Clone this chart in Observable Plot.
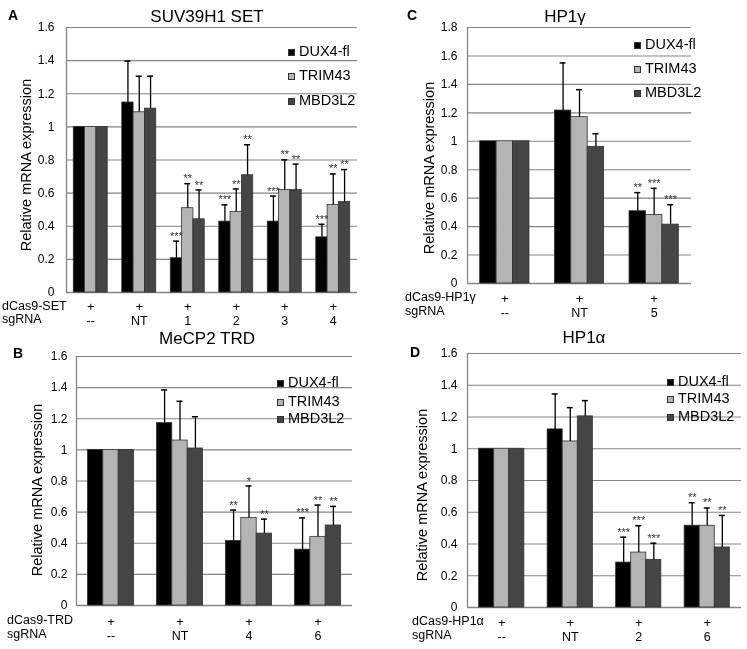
<!DOCTYPE html>
<html>
<head>
<meta charset="utf-8">
<script src="https://cdn.jsdelivr.net/npm/d3@7"></script>
<script src="https://cdn.jsdelivr.net/npm/@observablehq/plot@0.6"></script>
<style>
  body { margin: 0; background: #fff; }
  #root { position: relative; width: 747px; height: 649px; overflow: hidden; background: #fff;
          font-family: Arial, "Liberation Sans", sans-serif; color: #000; filter: grayscale(100%); }
  .abs { position: absolute; white-space: nowrap; line-height: 0.9; }
  .sq { position: absolute; width: 5px; height: 5px; border: 1px solid #333; box-sizing: content-box; }
  svg { overflow: visible; }
</style>
</head>
<body>
<div id="root"></div>
<script>
// ---------- data ----------
const SERIES = ["DUX4-fl", "TRIM43", "MBD3L2"];
const FILLS = ["#000000", "#b4b4b4", "#454545"];

// Panel A: SUV39H1 SET
const aTitle = "SUV39H1 SET";
const aRowTitle = "dCas9-SET";
const aGroups = ["--", "NT", "1", "2", "3", "4"];
const aDUX4 = [1, 1.147, 0.207, 0.428, 0.428, 0.333];
const aDUX4Err = [0, 0.25, 0.103, 0.101, 0.154, 0.079];
const aDUX4Sig = ["", "", "***", "***", "***", "***"];
const aTRIM43 = [1, 1.088, 0.509, 0.487, 0.619, 0.529];
const aTRIM43Err = [0, 0.218, 0.148, 0.138, 0.182, 0.187];
const aTRIM43Sig = ["", "", "**", "**", "**", "**"];
const aMBD3L2 = [1, 1.11, 0.442, 0.708, 0.619, 0.546];
const aMBD3L2Err = [0, 0.196, 0.177, 0.184, 0.156, 0.196];
const aMBD3L2Sig = ["", "", "**", "**", "**", "**"];

// Panel B: MeCP2 TRD
const bTitle = "MeCP2 TRD";
const bRowTitle = "dCas9-TRD";
const bGroups = ["--", "NT", "4", "6"];
const bDUX4 = [1, 1.172, 0.415, 0.359];
const bDUX4Err = [0, 0.213, 0.198, 0.204];
const bDUX4Sig = ["", "", "**", "***"];
const bTRIM43 = [1, 1.06, 0.563, 0.441];
const bTRIM43Err = [0, 0.252, 0.205, 0.204];
const bTRIM43Sig = ["", "", "*", "**"];
const bMBD3L2 = [1, 1.009, 0.462, 0.514];
const bMBD3L2Err = [0, 0.204, 0.093, 0.123];
const bMBD3L2Sig = ["", "", "**", "**"];

// Panel C: HP1γ
const cTitle = "HP1γ";
const cRowTitle = "dCas9-HP1γ";
const cGroups = ["--", "NT", "5"];
const cDUX4 = [1, 1.216, 0.508];
const cDUX4Err = [0, 0.335, 0.131];
const cDUX4Sig = ["", "", "**"];
const cTRIM43 = [1, 1.17, 0.482];
const cTRIM43Err = [0, 0.193, 0.187];
const cTRIM43Sig = ["", "", "***"];
const cMBD3L2 = [1, 0.961, 0.414];
const cMBD3L2Err = [0, 0.092, 0.14];
const cMBD3L2Sig = ["", "", "***"];

// Panel D: HP1α
const dTitle = "HP1α";
const dRowTitle = "dCas9-HP1α";
const dGroups = ["--", "NT", "2", "6"];
const dDUX4 = [1, 1.122, 0.283, 0.515];
const dDUX4Err = [0, 0.223, 0.16, 0.145];
const dDUX4Sig = ["", "", "***", "**"];
const dTRIM43 = [1, 1.046, 0.346, 0.515];
const dTRIM43Err = [0, 0.213, 0.169, 0.112];
const dTRIM43Sig = ["", "", "***", "**"];
const dMBD3L2 = [1, 1.204, 0.3, 0.378];
const dMBD3L2Err = [0, 0.099, 0.105, 0.202];
const dMBD3L2Sig = ["", "", "***", "**"];

const yLabel = "Relative mRNA expression";

// ---------- helpers ----------
const root = document.getElementById("root");
const FONT = 'Arial, "Liberation Sans", sans-serif';

function text(x, y, str, opts = {}) {
  const el = document.createElement("div");
  el.className = "abs";
  el.textContent = str;
  el.style.left = x + "px";
  el.style.top = y + "px";
  el.style.fontSize = (opts.size || 12) + "px";
  if (opts.weight) el.style.fontWeight = opts.weight;
  const tx = opts.anchor === "start" ? "0" : "-50%";
  el.style.transform = `translate(${tx}, -50%)` + (opts.rotate ? ` rotate(${opts.rotate}deg)` : "");
  root.appendChild(el);
  return el;
}

function legend(x, ys, size) {
  SERIES.forEach((s, j) => {
    const sq = document.createElement("div");
    sq.className = "sq";
    sq.style.left = x + "px";
    sq.style.top = (ys[j] - 3) + "px";
    sq.style.background = FILLS[j];
    root.appendChild(sq);
    text(x + 11, ys[j], s, {size, anchor: "start"});
  });
}

function panel(p) {
  const n = p.groups.length;
  const rows = [];
  SERIES.forEach((s, j) => {
    p.values[j].forEach((v, i) => {
      const w = p.span / 3;
      const x1 = i - p.span / 2 + j * w;
      rows.push({i, j, s, v, sd: p.errs[j][i], sig: p.sigs[j][i],
                 x1, x2: x1 + w, cx: x1 + w / 2, top: v + p.errs[j][i]});
    });
  });
  const errRows = rows.filter(d => d.sd > 0);
  const sigRows = rows.filter(d => d.sig);
  const yTicks = d3.range(0, p.yMax + 1e-9, 0.2).map(v => +v.toFixed(1));
  const groupRows = p.groups.map((g, i) => ({i, g}));

  const chart = Plot.plot({
    width: p.w, height: p.h,
    marginLeft: p.ml, marginRight: p.mr, marginTop: p.mt, marginBottom: p.mb,
    style: {fontFamily: FONT, fontSize: "12px", background: "transparent", color: "#000", overflow: "visible"},
    x: {domain: [-0.5, n - 0.5], axis: null},
    y: {domain: [0, p.yMax], ticks: yTicks, tickSize: 0, tickPadding: p.tp,
        tickFormat: d => String(d), label: null},
    marks: [
      Plot.ruleY(yTicks.filter(t => t > 0), {stroke: "#858585", strokeWidth: 1.1}),
      Plot.ruleY([0], {stroke: "#858585", strokeWidth: 1.3}),
      Plot.ruleX([-0.5], {stroke: "#858585", strokeWidth: 1.3}),
      Plot.rect(rows, {x1: "x1", x2: "x2", y1: 0, y2: "v",
                       fill: d => FILLS[d.j], stroke: "#333", strokeWidth: 0.8}),
      Plot.ruleX(errRows, {x: "cx", y1: "v", y2: "top", stroke: "#000", strokeWidth: 1.3}),
      Plot.ruleY(errRows, {y: "top", x1: "cx", x2: "cx", insetLeft: -3, insetRight: -3,
                           stroke: "#000", strokeWidth: 1.5}),
      Plot.text(sigRows, {x: "cx", y: "top", text: "sig", dy: -5, fontSize: 11, fill: "#333"}),
      Plot.text(groupRows, {x: "i", text: () => "+", frameAnchor: "bottom", lineAnchor: "middle",
                            dy: p.dyPlus, fontSize: 13}),
      Plot.text(groupRows, {x: "i", text: "g", frameAnchor: "bottom", lineAnchor: "middle",
                            dy: p.dyLab, fontSize: 12.5})
    ]
  });
  chart.style.position = "absolute";
  chart.style.left = p.left + "px";
  chart.style.top = p.top + "px";
  root.appendChild(chart);

  const frameBottom = p.top + p.h - p.mb;
  text(p.titleX, p.titleY, p.title, {size: 17});
  text(p.letterX, p.letterY, p.letter, {size: 14, weight: "bold"});
  text(p.ylX, p.ylY, yLabel, {size: 14.5, rotate: -90});
  text(p.rowX, frameBottom + p.dyPlus, p.rowTitle, {size: 12.5, anchor: "start"});
  text(p.rowX, frameBottom + p.dyLab, "sgRNA", {size: 12.5, anchor: "start"});
  legend(p.legX, p.legY, 14.5);
}

// ---------- panels ----------
panel({
  title: aTitle, letter: "A", rowTitle: aRowTitle, groups: aGroups,
  values: [aDUX4, aTRIM43, aMBD3L2], errs: [aDUX4Err, aTRIM43Err, aMBD3L2Err],
  sigs: [aDUX4Sig, aTRIM43Sig, aMBD3L2Sig], yMax: 1.6, span: 0.70,
  left: 0, top: 0, w: 370, h: 330, ml: 66, mr: 13, mt: 27, mb: 38, tp: 12,
  dyPlus: 14.5, dyLab: 28,
  titleX: 207, titleY: 17, letterX: 13, letterY: 15, ylX: 27, ylY: 165,
  rowX: 2, legX: 288, legY: [52, 76, 101]
});
panel({
  title: bTitle, letter: "B", rowTitle: bRowTitle, groups: bGroups,
  values: [bDUX4, bTRIM43, bMBD3L2], errs: [bDUX4Err, bTRIM43Err, bMBD3L2Err],
  sigs: [bDUX4Sig, bTRIM43Sig, bMBD3L2Sig], yMax: 1.6, span: 0.67,
  left: 0, top: 325, w: 370, h: 324, ml: 76, mr: 18, mt: 31, mb: 44, tp: 9,
  dyPlus: 16, dyLab: 30,
  titleX: 207, titleY: 339, letterX: 18, letterY: 353, ylX: 38, ylY: 490,
  rowX: 7, legX: 277, legY: [383, 402, 419]
});
panel({
  title: cTitle, letter: "C", rowTitle: cRowTitle, groups: cGroups,
  values: [cDUX4, cTRIM43, cMBD3L2], errs: [cDUX4Err, cTRIM43Err, cMBD3L2Err],
  sigs: [cDUX4Sig, cTRIM43Sig, cMBD3L2Sig], yMax: 1.8, span: 0.66,
  left: 380, top: 0, w: 367, h: 325, ml: 87, mr: 56, mt: 27, mb: 42, tp: 10,
  dyPlus: 15, dyLab: 29,
  titleX: 565, titleY: 17, letterX: 412, letterY: 15, ylX: 430, ylY: 168,
  rowX: 405, legX: 634, legY: [45, 69, 93]
});
panel({
  title: dTitle, letter: "D", rowTitle: dRowTitle, groups: dGroups,
  values: [dDUX4, dTRIM43, dMBD3L2], errs: [dDUX4Err, dTRIM43Err, dMBD3L2Err],
  sigs: [dDUX4Sig, dTRIM43Sig, dMBD3L2Sig], yMax: 1.6, span: 0.66,
  left: 380, top: 325, w: 367, h: 324, ml: 87, mr: 6, mt: 28, mb: 42, tp: 10,
  dyPlus: 15, dyLab: 29,
  titleX: 584, titleY: 338, letterX: 415, letterY: 352, ylX: 423, ylY: 495,
  rowX: 412, legX: 667, legY: [382, 399, 417]
});
</script>
</body>
</html>
